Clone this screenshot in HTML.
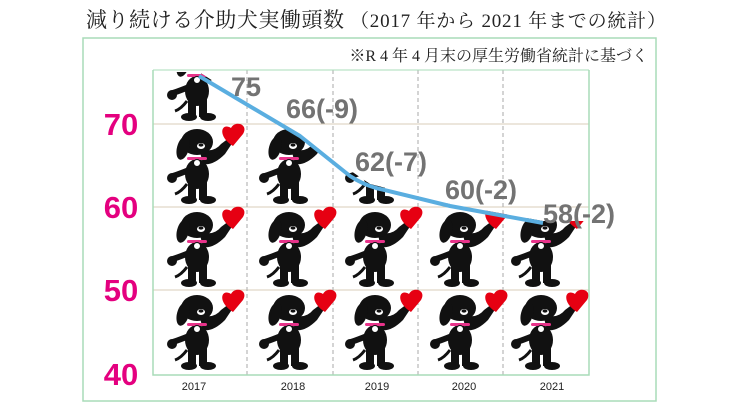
<!DOCTYPE html>
<html><head><meta charset="utf-8"><style>
body{margin:0;background:#fff;width:736px;height:414px;overflow:hidden;}
</style></head><body>
<svg width="736" height="414" xmlns="http://www.w3.org/2000/svg" font-family="Liberation Sans, sans-serif">
<defs>
<g id="dog">
 <path d="M46 24 Q60 30 68 20 L76 14 L80 18 L72 30 Q60 42 50 40 Z" fill="#111"/>
 <path d="M80 22 C64 12 68 -2 78 4 C82 -4 96 0 90 10 Z" fill="#e60012"/>
 <ellipse cx="44" cy="18" rx="16" ry="13" fill="#111"/>
 <ellipse cx="30" cy="24" rx="6" ry="12" fill="#111" transform="rotate(15 30 24)"/>
 <ellipse cx="48" cy="22" rx="4" ry="3" fill="#fff"/>
 <ellipse cx="48" cy="21" rx="2.5" ry="1.6" fill="#111"/>
 <path d="M36 46 Q26 50 20 52" stroke="#111" stroke-width="6" fill="none" stroke-linecap="round"/>
 <circle cx="19" cy="54" r="5" fill="#111"/>
 <ellipse cx="44" cy="50" rx="12" ry="15" fill="#111"/>
 <path d="M34 60 Q28 68 22 70" stroke="#111" stroke-width="3" fill="none"/>
 <rect x="35" y="58" width="8" height="18" fill="#111"/>
 <rect x="46" y="58" width="8" height="18" fill="#111"/>
 <ellipse cx="36" cy="76" rx="8" ry="4" fill="#111"/>
 <ellipse cx="55" cy="76" rx="8" ry="4" fill="#111"/>
 <rect x="34" y="33" width="20" height="3" rx="1.5" fill="#e8338a"/>
 <circle cx="44" cy="39" r="3.5" fill="#fff" stroke="#111" stroke-width="1"/>
</g>
<clipPath id="cp"><path d="M153 72 L199 72 L300 136 L370 184 L450 204 L543 221 L589 221 L589 375 L153 375 Z"/></clipPath>
</defs>
<text x="86" y="27" font-size="21" fill="#222" font-family="Liberation Serif, Noto Serif CJK SC, serif" textLength="258" lengthAdjust="spacing">減り続ける介助犬実働頭数</text>
<text x="350" y="27" font-size="19" fill="#222" font-family="Liberation Serif, Noto Serif CJK SC, serif" textLength="316" lengthAdjust="spacing">（2017 年から 2021 年までの統計）</text>
<rect x="83" y="38" width="573" height="363" fill="none" stroke="#a8dcb8" stroke-width="1.5"/>
<text x="648" y="61" font-size="16" text-anchor="end" fill="#222" font-family="Liberation Serif, Noto Serif CJK SC, serif">※R 4 年 4 月末の厚生労働省統計に基づく</text>
<g stroke="#d8ccb8" stroke-width="1"><line x1="153" y1="124" x2="589" y2="124"/><line x1="153" y1="207" x2="589" y2="207"/><line x1="153" y1="290" x2="589" y2="290"/></g>
<g stroke="#aaa" stroke-dasharray="4,3"><line x1="247" y1="70" x2="247" y2="375"/><line x1="333" y1="70" x2="333" y2="375"/><line x1="418" y1="70" x2="418" y2="375"/><line x1="503" y1="70" x2="503" y2="375"/></g>
<g clip-path="url(#cp)">
<use href="#dog" x="153" y="41"/><use href="#dog" x="153" y="124"/><use href="#dog" x="153" y="207"/><use href="#dog" x="153" y="290"/>
<use href="#dog" x="245" y="124"/><use href="#dog" x="245" y="207"/><use href="#dog" x="245" y="290"/>
<use href="#dog" x="331" y="124"/><use href="#dog" x="331" y="207"/><use href="#dog" x="331" y="290"/>
<use href="#dog" x="416" y="124"/><use href="#dog" x="416" y="207"/><use href="#dog" x="416" y="290"/>
<use href="#dog" x="497" y="124"/><use href="#dog" x="497" y="207"/><use href="#dog" x="497" y="290"/>
</g>
<path d="M153 70 L153 375 L589 375 L589 70" fill="none" stroke="#a8dcb8" stroke-width="1.5"/>
<line x1="153" y1="70" x2="589" y2="70" stroke="#a8dcb8" stroke-width="1"/>
<path d="M199 76 L300 136 L350 176 Q362 184 376 188 L450 206 L543 223" fill="none" stroke="#5aaee0" stroke-width="4" stroke-linejoin="round"/>
<g font-size="27" font-weight="bold" fill="#737373">
<text x="231" y="96">75</text><text x="286" y="118">66(-9)</text><text x="355" y="171">62(-7)</text><text x="445" y="199">60(-2)</text><text x="543" y="223">58(-2)</text>
</g>
<g font-size="31" font-weight="bold" fill="#e4007f" text-anchor="middle">
<text x="121" y="135">70</text><text x="121" y="218">60</text><text x="121" y="301">50</text><text x="121" y="385">40</text>
</g>
<g font-size="11" fill="#222" text-anchor="middle">
<text x="194" y="390">2017</text><text x="293" y="390">2018</text><text x="377" y="390">2019</text><text x="464" y="390">2020</text><text x="552" y="390">2021</text>
</g>
</svg>
</body></html>
